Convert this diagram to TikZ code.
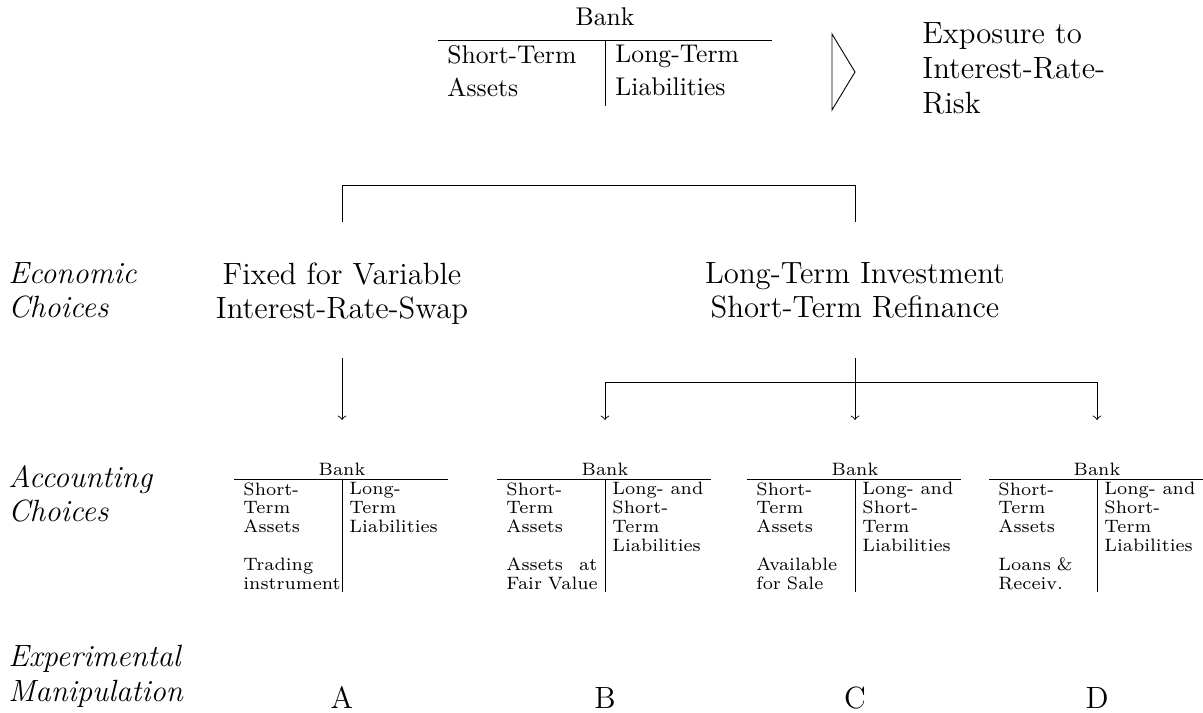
\documentclass[tikz,border=0pt]{standalone}
\tikzset{
  every path/.style={line width=0.35pt},
  expo/.style={font=\fontsize{12}{13.7}\selectfont,inner sep=0pt,align=left,anchor=north west},
  lbl/.style={font=\fontsize{12}{13.5}\selectfont\itshape,inner sep=0pt,align=left,anchor=north west},
  choice/.style={font=\fontsize{12}{13.5}\selectfont,inner sep=0pt,align=center,anchor=north},
  tnorm/.style={font=\fontsize{10}{12.9}\selectfont,inner sep=0pt,align=left,anchor=north west},
  tsmall/.style={font=\fontsize{7}{7.4}\selectfont,inner sep=0pt},
  tcol/.style={tsmall,text width=35.5pt,align=left,anchor=north west}
}
\begin{document}
\begin{tikzpicture}[x=0.3906pt,y=-0.3906pt]
\useasboundingbox (0,0) rectangle (1203,713);
% bank on top
\node[tnorm,anchor=center] (bank) at (605,17) {Bank};
\draw (438,40) -- (772,40);
\draw (605,40) -- (605,106);
\node[tnorm] (assets) at (447,45) {Short-Term\\Assets};
\node[tnorm] (liab) at (615,45) {Long-Term\\Liabilities};
\draw (832,34) -- (855,72) -- (832,110) -- cycle;
\node[expo] (risk) at (922,22) {Exposure to\\Interest-Rate-\\Risk};
% economic choices
\node[lbl] (econ) at (8,262) {Economic\\Choices};
\node[choice] (swap) at (342,262) {Fixed for Variable\\Interest-Rate-Swap};
\node[choice] (invest) at (855,262) {Long-Term Investment\\Short-Term Refinance};
\coordinate (swaptop) at (342,222);
\coordinate (investtop) at (855,222);
\draw (swaptop) -- ++(0,-37) -| (investtop);
% accounting choices
\node[lbl] (acc) at (8,465) {Accounting\\Choices};
\node[lbl] (exper) at (8,645) {Experimental\\Manipulation};
\foreach \c/\n/\lt/\rt in {
  342/A/{Short-\\Term\\Assets\\[7.4pt]Trading\\instrument}/{Long-\\Term\\Liabilities},
  605/B/{Short-\\Term\\Assets\\[7.4pt]Assets\hfill at\\\mbox{Fair Value}}/{Long-\hfill and\\Short-\\Term\\Liabilities},
  855/C/{Short-\\Term\\Assets\\[7.4pt]Available\\for Sale}/{Long-\hfill and\\Short-\\Term\\Liabilities},
  1097/D/{Short-\\Term\\Assets\\[7.4pt]Loans \&\\Receiv.}/{Long-\hfill and\\Short-\\Term\\Liabilities}}
{
  \node[tsmall] (bank\n) at (\c,469) {Bank};
  \draw (\c-108,479) -- (\c+106,479);
  \draw (\c,479) -- (\c,592);
  \node[tcol] (left\n) at (\c-99,482) {\lt};
  \node[tcol] (right\n) at (\c+7,482) {\rt};
  \node[choice,anchor=base] (case\n) at (\c,709) {\n};
  \coordinate (tip\n) at (\c,420);
}
\coordinate (swapbot) at (342,358);
\coordinate (investbot) at (855,358);
\coordinate (fork) at (855,382);
\draw[-to] (swapbot) -- (tipA);
\draw[-to] (investbot) -- (tipC);
\draw[-to] (fork) -| (tipB);
\draw[-to] (fork) -| (tipD);
\end{tikzpicture}
\end{document}
